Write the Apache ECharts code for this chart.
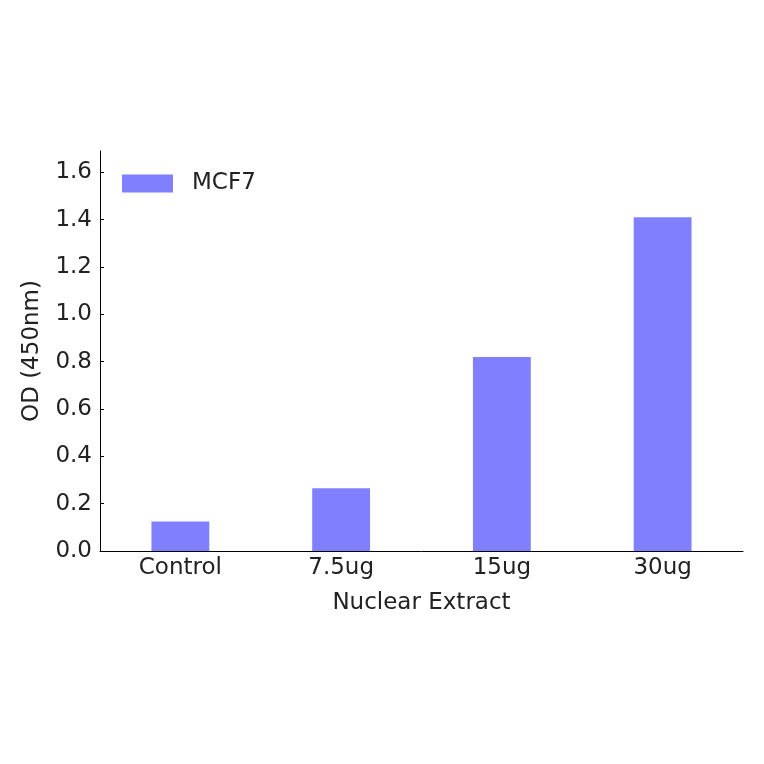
<!DOCTYPE html>
<html>
<head>
<meta charset="utf-8">
<script src="https://cdn.jsdelivr.net/npm/echarts@6/dist/echarts.min.js"></script>
<style>
	html, body { margin: 0; padding: 0; background: #fff; }
	#main { width: 764px; height: 764px; }
</style>
</head>
<body>
<div id="main"></div>
<script>
var categories = ['Control', '7.5ug', '15ug', '30ug'];
var mcf7 = [0.125, 0.265, 0.82, 1.41];
var yTicks = [0, 0.2, 0.4, 0.6, 0.8, 1.0, 1.2, 1.4, 1.6];

var font = 'DejaVu Sans';
var fs = 23;

var myChart = echarts.init(document.getElementById('main'));

var option = {
	animation: false,
	textStyle: { fontFamily: font },
	grid: { left: 100, right: 21, top: 151, bottom: 213 },
	legend: {
		data: ['MCF7'],
		left: 122,
		top: 172,
		padding: 0,
		icon: 'rect',
		itemWidth: 51,
		itemHeight: 18,
		textStyle: { fontFamily: font, fontSize: fs, color: '#222', padding: [0, 0, 0, 14] }
	},
	xAxis: {
		type: 'category',
		data: categories,
		name: 'Nuclear Extract',
		nameLocation: 'middle',
		nameGap: 41,
		nameTextStyle: { fontFamily: font, fontSize: fs, color: '#222' },
		axisLine: { lineStyle: { color: '#000', width: 1 } },
		axisTick: { inside: true, alignWithLabel: true, length: 4, lineStyle: { color: '#000' } },
		axisLabel: { fontFamily: font, fontSize: fs, color: '#222', margin: 6 }
	},
	yAxis: {
		type: 'value',
		min: 0,
		max: 1.69,
		interval: 0.2,
		name: 'OD (450nm)',
		nameLocation: 'middle',
		nameGap: 56,
		nameTextStyle: { fontFamily: font, fontSize: fs, color: '#222' },
		axisLine: { show: true, lineStyle: { color: '#000', width: 1 } },
		axisTick: { show: true, inside: true, length: 4, customValues: yTicks, lineStyle: { color: '#000' } },
		axisLabel: {
			fontFamily: font, fontSize: fs, color: '#222', margin: 8,
			customValues: yTicks,
			formatter: function (v) { return v.toFixed(1); }
		},
		splitLine: { show: false }
	},
	series: [{
		name: 'MCF7',
		type: 'bar',
		data: mcf7,
		barWidth: '36%',
		itemStyle: { color: '#8080ff' }
	}]
};

myChart.setOption(option);
</script>
</body>
</html>
